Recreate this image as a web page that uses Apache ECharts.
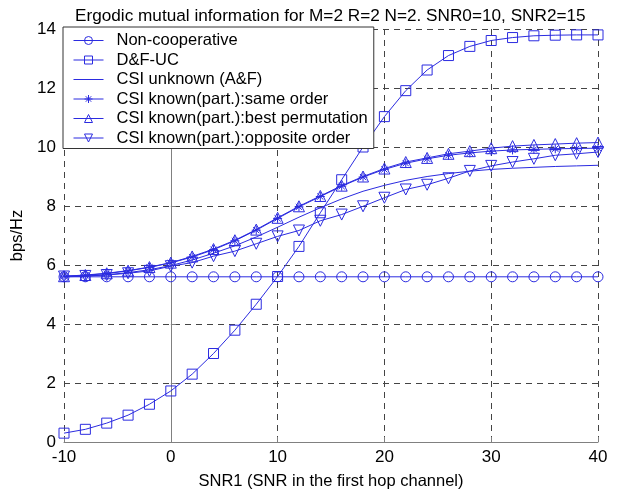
<!DOCTYPE html>
<html>
<head>
<meta charset="utf-8">
<script src="https://cdn.jsdelivr.net/npm/echarts@6/dist/echarts.min.js"></script>
<style>
html,body{margin:0;padding:0;background:#fff;}
#chart{width:619px;height:495px;}
</style>
</head>
<body>
<div id="chart"></div>
<script>
var titleText = 'Ergodic mutual information for M=2 R=2 N=2. SNR0=10, SNR2=15';
var xName = 'SNR1 (SNR in the first hop channel)';
var yName = 'bps/Hz';
var seriesNames = ['Non-cooperative', 'D&F-UC', 'CSI unknown (A&F)', 'CSI known(part.):same order', 'CSI known(part.):best permutation', 'CSI known(part.):opposite order'];
var snr1 = [-10, -8, -6, -4, -2, 0, 2, 4, 6, 8, 10, 12, 14, 16, 18, 20, 22, 24, 26, 28, 30, 32, 34, 36, 38, 40];
var nonCoop = [5.6, 5.6, 5.6, 5.6, 5.6, 5.6, 5.6, 5.6, 5.6, 5.6, 5.6, 5.6, 5.6, 5.6, 5.6, 5.6, 5.6, 5.6, 5.6, 5.6, 5.6, 5.6, 5.6, 5.6, 5.6, 5.6];
var dfUc = [0.3, 0.43, 0.64, 0.91, 1.28, 1.73, 2.3, 3.0, 3.79, 4.67, 5.61, 6.63, 7.77, 8.89, 10.0, 11.03, 11.91, 12.61, 13.1, 13.41, 13.61, 13.71, 13.77, 13.79, 13.8, 13.8];
var csiUnknown = [5.6, 5.62, 5.67, 5.74, 5.84, 5.98, 6.17, 6.4, 6.65, 6.95, 7.28, 7.62, 7.94, 8.24, 8.5, 8.7, 8.87, 9.0, 9.1, 9.18, 9.24, 9.28, 9.31, 9.34, 9.36, 9.38];
var sameOrder = [5.62, 5.65, 5.71, 5.8, 5.92, 6.07, 6.27, 6.52, 6.82, 7.18, 7.58, 7.97, 8.32, 8.67, 8.98, 9.24, 9.45, 9.6, 9.72, 9.8, 9.86, 9.9, 9.92, 9.94, 9.95, 9.96];
var bestPerm = [5.62, 5.66, 5.72, 5.81, 5.93, 6.08, 6.29, 6.54, 6.84, 7.2, 7.6, 7.99, 8.34, 8.69, 9.0, 9.27, 9.49, 9.63, 9.77, 9.86, 9.96, 10.03, 10.07, 10.1, 10.13, 10.15];
var oppositeOrder = [5.61, 5.63, 5.66, 5.72, 5.8, 5.96, 6.08, 6.3, 6.47, 6.72, 6.97, 7.17, 7.5, 7.71, 7.99, 8.28, 8.56, 8.72, 8.94, 9.19, 9.36, 9.49, 9.6, 9.72, 9.77, 9.83];

var BLUE = '#2b2be0';
function pairs(ys) { return snr1.map(function (x, i) { return [x, ys[i]]; }); }
var asterisk = 'path://M5,0L5,10M0,5L10,5M1.6,1.6L8.4,8.4M1.6,8.4L8.4,1.6';
function mk(name, ys, symbol, size, rotate) {
  var hasSym = !!symbol;
  return {
    name: name, type: 'line', data: pairs(ys),
    symbol: symbol || 'circle', symbolSize: size || 9, symbolRotate: rotate || 0,
    showSymbol: hasSym, smooth: false, animation: false,
    lineStyle: { color: BLUE, width: 1 },
    itemStyle: { color: 'rgba(0,0,0,0)', borderColor: hasSym ? BLUE : 'rgba(0,0,0,0)', borderWidth: 1 },
    emphasis: { disabled: true }
  };
}
var chart = echarts.init(document.getElementById('chart'), null, { renderer: 'canvas' });
var font = 'Liberation Sans, Arial, sans-serif';
chart.setOption({
  backgroundColor: '#fff',
  animation: false,
  title: {
    text: titleText, left: 70, top: 3,
    textStyle: { fontFamily: font, fontSize: 17.2, fontWeight: 'normal', color: '#000' }
  },
  grid: { left: 64, right: 21, top: 29, bottom: 46 },
  legend: {
    orient: 'vertical', left: 63, top: 27,
    itemWidth: 30, itemHeight: 10, itemGap: 2.5,
    padding: [5, 6, 2, 10],
    backgroundColor: '#fff', borderColor: '#333', borderWidth: 1, borderRadius: 0,
    lineStyle: { width: 1, color: BLUE },
    itemStyle: { borderWidth: 1 },
    textStyle: { fontFamily: font, fontSize: 16.5, color: '#000', padding: [0, 0, 0, 8] },
    data: seriesNames
  },
  xAxis: {
    type: 'value', min: -10, max: 40, interval: 10,
    name: xName, nameLocation: 'middle', nameGap: 31,
    nameTextStyle: { fontFamily: font, fontSize: 16.5, color: '#000' },
    axisLine: { lineStyle: { color: '#808080', width: 1 } },
    axisTick: { inside: true, length: 5, lineStyle: { color: '#808080' } },
    axisLabel: { fontFamily: font, fontSize: 17, color: '#000', margin: 7 },
    splitLine: { show: true, lineStyle: { color: '#444', type: [6, 5], width: 1 } }
  },
  yAxis: {
    type: 'value', min: 0, max: 14, interval: 2,
    name: yName, nameLocation: 'middle', nameGap: 34, nameRotate: 90,
    nameTextStyle: { fontFamily: font, fontSize: 16.5, color: '#000' },
    axisLine: { show: true, lineStyle: { color: '#808080', width: 1 } },
    axisTick: { show: true, inside: true, length: 5, lineStyle: { color: '#808080' } },
    axisLabel: { fontFamily: font, fontSize: 17, color: '#000', margin: 8 },
    splitLine: { show: true, lineStyle: { color: '#444', type: [6, 5], width: 1 } }
  },
  series: [
    mk(seriesNames[0], nonCoop, 'circle', 10),
    mk(seriesNames[1], dfUc, 'rect', 10),
    mk(seriesNames[2], csiUnknown, null),
    mk(seriesNames[3], sameOrder, asterisk, 9),
    mk(seriesNames[4], bestPerm, 'triangle', 11),
    mk(seriesNames[5], oppositeOrder, 'triangle', 11, 180)
  ]
});
</script>
</body>
</html>
